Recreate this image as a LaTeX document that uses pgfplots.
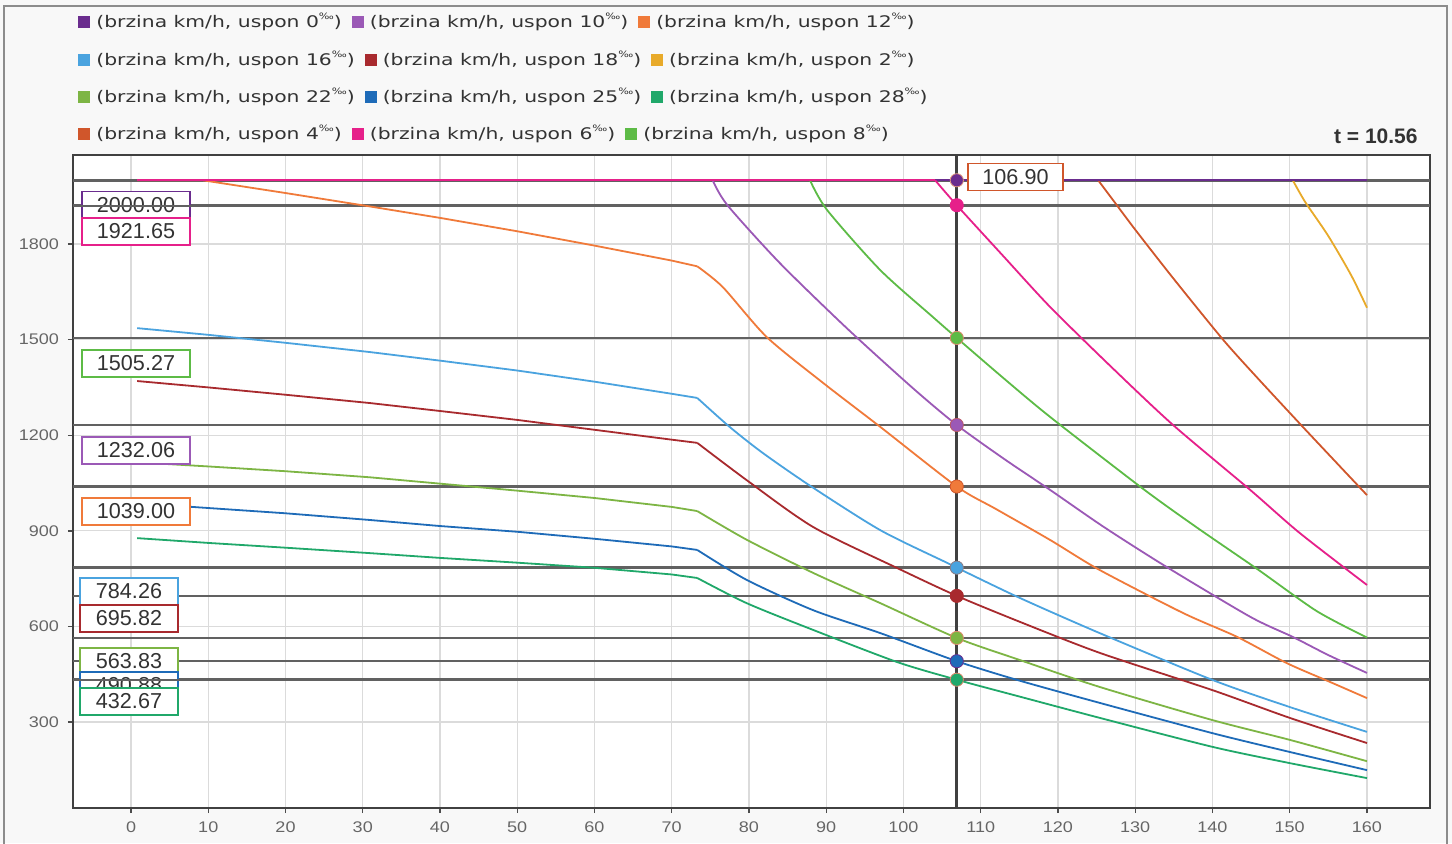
\documentclass[border=0pt]{standalone}
\usepackage{fontspec}
\setmainfont{Liberation Sans}
\newfontfamily\legfont[FakeStretch=1.27]{DejaVu Sans}
\newfontfamily\tickfont[FakeStretch=1.17]{Liberation Sans}
\usepackage{graphicx}
\usepackage{pgfplots}
\pgfplotsset{compat=1.18}
\definecolor{c0}{HTML}{6A2C8E}
\definecolor{c10}{HTML}{9B59B6}
\definecolor{c12}{HTML}{F07A3A}
\definecolor{c16}{HTML}{4AA3DF}
\definecolor{c18}{HTML}{A82A2E}
\definecolor{c2}{HTML}{E8AA2A}
\definecolor{c22}{HTML}{7DB544}
\definecolor{c25}{HTML}{1E6BB8}
\definecolor{c28}{HTML}{20A86A}
\definecolor{c4}{HTML}{D0562B}
\definecolor{c6}{HTML}{E6208A}
\definecolor{c8}{HTML}{5DBB46}
\definecolor{bgc}{HTML}{F8F8F8}
\definecolor{txt}{HTML}{333333}
\newcommand{\li}[2]{\textcolor{#1}{\raisebox{-0.3pt}{\rule{6pt}{6pt}}}\hspace{3pt}{\legfont\fontsize{8}{9}\selectfont\color{txt}(brzina km/h, uspon #2\raisebox{0.9ex}{\scalebox{0.55}{‰}})}}
\tikzset{
  refl/.style={draw=black!62, line width=1.3pt},
  lin/.style={line width=0.9pt},
  crv/.style={line width=0.9pt, smooth, tension=0.45},
  vbox/.style={draw, fill=white, line width=0.9pt, inner sep=0pt, minimum height=13.5pt, text=txt, font=\fontsize{10.8}{12}\selectfont},
  vb5/.style={vbox, minimum width=54pt},
  vb3/.style={vbox, minimum width=49pt},
}
\begin{document}
\begin{tikzpicture}
\useasboundingbox (0,0) rectangle (726pt,-421.5pt);
\begin{scope}[x=0.5pt,y=-0.5pt]
\fill[bgc] (0,0) rectangle (1452,843);
\draw[black!45, line width=0.8pt] (4,6) rectangle (1447,860);
\end{scope}
\begin{axis}[
  at={(36.5pt,-404pt)}, anchor=south west,
  scale only axis, width=678.5pt, height=326.5pt,
  xmin=-7.51, xmax=168.16, ymin=30.1, ymax=2079.3,
  xtick={0,10,...,160}, ytick={300,600,...,1800},
  grid=major, major grid style={draw=black!14, line width=0.6pt},
  axis line style={draw=black!75, line width=0.9pt},
  tick align=outside, major tick length=2.5pt,
  tick style={draw=black!70, line width=0.7pt},
  xtick pos=left, ytick pos=left,
  /pgf/number format/assume math mode=true,
  ticklabel style={font=\tickfont\fontsize{7.7}{9}\selectfont, text=black!60},
  scaled ticks=false,
  yticklabel style={/pgf/number format/set thousands separator={}, xshift=-1pt},
  xticklabel style={yshift=-1pt},
  axis background/.style={fill=white},
]
% reference lines
\addplot[refl] coordinates {(-7.51,2000) (168.16,2000)};
\addplot[refl] coordinates {(-7.51,1921.65) (168.16,1921.65)};
\addplot[refl] coordinates {(-7.51,1505.27) (168.16,1505.27)};
\addplot[refl] coordinates {(-7.51,1232.06) (168.16,1232.06)};
\addplot[refl] coordinates {(-7.51,1039.00) (168.16,1039.00)};
\addplot[refl] coordinates {(-7.51,784.26) (168.16,784.26)};
\addplot[refl] coordinates {(-7.51,695.82) (168.16,695.82)};
\addplot[refl] coordinates {(-7.51,563.83) (168.16,563.83)};
\addplot[refl] coordinates {(-7.51,490.88) (168.16,490.88)};
\addplot[refl] coordinates {(-7.51,432.67) (168.16,432.67)};
% uspon 2
\addplot[c2, lin] coordinates {(0.8,2000) (150.4,2000)};
\addplot[c2, crv] coordinates {(150.4,2000) (152,1932) (155,1825) (158,1700) (160,1600)};
% uspon 4
\addplot[c4, lin] coordinates {(0.8,2000) (125.2,2000)};
\addplot[c4, crv] coordinates {(125.2,2000) (127,1942) (130,1845) (135,1690) (141.4,1499) (146,1375) (151.7,1226) (156,1115) (160,1012)};
% uspon 8
\addplot[c8, lin] coordinates {(0.8,2000) (87.9,2000)};
\addplot[c8, crv] coordinates {(87.9,2000) (90.1,1907) (97,1718) (103.8,1571) (106.9,1505.27) (113,1378) (119,1257) (131,1032) (138,910) (145.8,780) (153.5,648) (160,565)};
% uspon 10
\addplot[c10, lin] coordinates {(0.8,2000) (75.3,2000)};
\addplot[c10, crv] coordinates {(75.3,2000) (77.2,1922) (84,1740) (92.7,1535) (101.2,1348) (106.9,1232.06) (113,1126) (119,1028) (126,911) (134.1,786) (144.9,630) (150.4,567) (155,510) (160,454)};
% uspon 12
\addplot[c12, lin] coordinates {(0.8,2000) (9.3,2000) (20,1960) (30.9,1918) (40,1882) (50,1840) (60,1795) (70,1748) (73.3,1730)};
\addplot[c12, crv] coordinates {(73.3,1730) (76.6,1665) (82.3,1508) (89.6,1364) (97,1226) (106.9,1039) (112,968) (119,871) (125.4,777) (136.2,642) (143.2,567) (149.6,485) (155,428) (160,375)};
% uspon 0
\addplot[c0, lin] coordinates {(0.8,2000) (160,2000)};
% uspon 6
\addplot[c6, lin] coordinates {(0.8,2000) (104.1,2000)};
\addplot[c6, crv] coordinates {(104.1,2000) (106.9,1921.65) (113,1760) (119,1602) (127,1412) (134.9,1232) (144.9,1028) (151.3,893) (160,730)};
% uspon 16
\addplot[c16, lin] coordinates {(0.8,1536) (10,1515) (20,1490) (30.9,1461) (40,1434) (50,1403) (60,1368) (70,1330) (73.3,1317)};
\addplot[c16, crv] coordinates {(73.3,1317) (77.5,1226) (81.8,1144) (88,1040) (97,902) (105.6,800) (106.9,784.26) (115,690) (125.4,579) (140,432) (150,347) (160,269)};
% uspon 18
\addplot[c18, lin] coordinates {(0.8,1370) (10,1350) (20,1327) (30.9,1301) (40,1276) (50,1248) (60,1217) (70,1186) (73.3,1176)};
\addplot[c18, crv] coordinates {(73.3,1176) (79.7,1059) (88.3,912) (99.2,783) (106.9,695.82) (115,615) (125.4,517) (140,400) (150,313) (160,234)};
% uspon 22
\addplot[c22, lin] coordinates {(0.8,1115) (10,1102) (20,1087) (30.9,1068) (40,1048) (50,1026) (60,1003) (70,975) (73.3,962)};
\addplot[c22, crv] coordinates {(73.3,962) (79.7,872) (88.3,768) (97,673) (106.9,563.83) (115,495) (125.4,410) (140,306) (150,244) (160,177)};
% uspon 25
\addplot[c25, lin] coordinates {(0.8,985) (7.9,975) (20,955) (30.9,934) (40,915) (50,897) (60,875) (70,851) (73.3,840)};
\addplot[c25, crv] coordinates {(73.3,840) (79.7,746) (88.3,651) (97,579) (106.9,490.88) (115,430) (125.4,360) (140,265) (150,206) (160,149)};
% uspon 28
\addplot[c28, lin] coordinates {(0.8,877) (10,862) (20,847) (30.9,830) (40,815) (50,800) (60,784) (70,763) (73.3,752)};
\addplot[c28, crv] coordinates {(73.3,752) (79.7,673) (88.3,589) (99.2,488) (106.9,432.67) (115,380) (125.4,313) (140,222) (150,171) (160,124)};
% cursor
\addplot[draw=black!75, line width=1.5pt] coordinates {(106.9,30.1) (106.9,2079.3)};
% markers
\addplot[only marks, mark=*, mark size=3.3pt, mark options={fill=c0, draw=c4!60}] coordinates {(106.9,2000)};
\addplot[only marks, mark=*, mark size=3.3pt, mark options={fill=c6, draw=c6}] coordinates {(106.9,1921.65)};
\addplot[only marks, mark=*, mark size=3.3pt, mark options={fill=c8, draw=c4!70}] coordinates {(106.9,1505.27)};
\addplot[only marks, mark=*, mark size=3.3pt, mark options={fill=c10, draw=c4!60!c10}] coordinates {(106.9,1232.06)};
\addplot[only marks, mark=*, mark size=3.3pt, mark options={fill=c12, draw=c4}] coordinates {(106.9,1039.00)};
\addplot[only marks, mark=*, mark size=3.3pt, mark options={fill=c16, draw=c4!50!c16}] coordinates {(106.9,784.26)};
\addplot[only marks, mark=*, mark size=3.3pt, mark options={fill=c18, draw=c18}] coordinates {(106.9,695.82)};
\addplot[only marks, mark=*, mark size=3.3pt, mark options={fill=c22, draw=c4!70}] coordinates {(106.9,563.83)};
\addplot[only marks, mark=*, mark size=3.3pt, mark options={fill=c25, draw=c0}] coordinates {(106.9,490.88)};
\addplot[only marks, mark=*, mark size=3.3pt, mark options={fill=c28, draw=c4!70}] coordinates {(106.9,432.67)};
\end{axis}
\begin{scope}[x=0.5pt,y=-0.5pt]
% legend
\node[anchor=west, inner sep=0pt] at (78,22) {\li{c0}{0}\hspace{5pt}\li{c10}{10}\hspace{5pt}\li{c12}{12}};
\node[anchor=west, inner sep=0pt] at (78,60) {\li{c16}{16}\hspace{5pt}\li{c18}{18}\hspace{5pt}\li{c2}{2}};
\node[anchor=west, inner sep=0pt] at (78,97) {\li{c22}{22}\hspace{5pt}\li{c25}{25}\hspace{5pt}\li{c28}{28}};
\node[anchor=west, inner sep=0pt] at (78,134) {\li{c4}{4}\hspace{5pt}\li{c6}{6}\hspace{5pt}\li{c8}{8}};
\node[anchor=east, inner sep=0pt, text=black!80, font=\bfseries\fontsize{10.5}{12}\selectfont] at (1418,136) {t = 10.56};
% value boxes
\node[vb5, draw=c0] at (136,205) {2000.00};
\draw[refl] (80,206) -- (192,206);
\node[vb5, draw=c6] at (136,231.5) {1921.65};
\node[vb5, draw=c8] at (136,363.5) {1505.27};
\node[vb5, draw=c10] at (136,450.5) {1232.06};
\node[vb5, draw=c12] at (136,511.5) {1039.00};
\node[vb3, draw=c16] at (129,591.5) {784.26};
\node[vb3, draw=c18] at (129,618.5) {695.82};
\node[vb3, draw=c22] at (129,661.5) {563.83};
\node[vb3, draw=c25] at (129,685.5) {490.88};
\draw[refl] (78,680) -- (180,680);
\node[vb3, draw=c28] at (129,701.5) {432.67};
\node[vbox, draw=c4, minimum width=47.5pt] at (1015.5,177) {106.90};
\end{scope}
\end{tikzpicture}
\end{document}
